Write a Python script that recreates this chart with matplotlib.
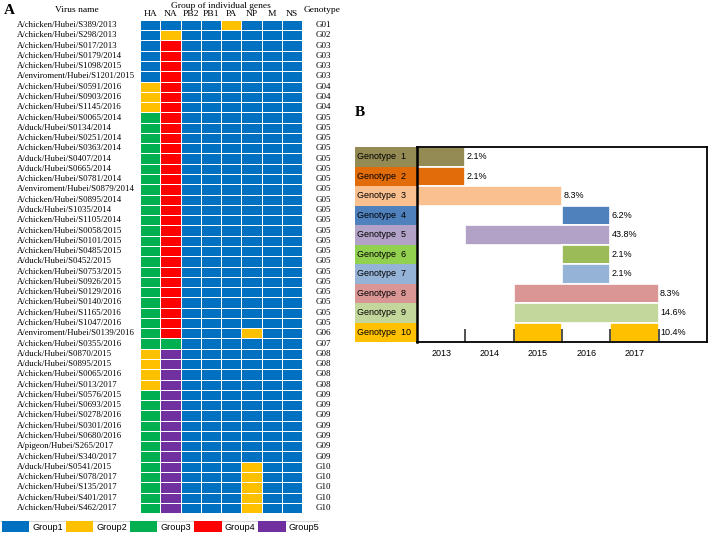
import numpy as np
import matplotlib.pyplot as plt
import matplotlib.transforms as mtransforms
from matplotlib.colors import ListedColormap
from matplotlib.patches import Patch
from matplotlib.lines import Line2D

# ---- panel A data ----
virus_names = [
    "A/chicken/Hubei/S389/2013", "A/chicken/Hubei/S298/2013", "A/chicken/Hubei/S017/2013",
    "A/chicken/Hubei/S0179/2014", "A/chicken/Hubei/S1098/2015", "A/enviroment/Hubei/S1201/2015",
    "A/chicken/Hubei/S0591/2016", "A/chicken/Hubei/S0903/2016", "A/chicken/Hubei/S1145/2016",
    "A/chicken/Hubei/S0065/2014", "A/duck/Hubei/S0134/2014", "A/chicken/Hubei/S0251/2014",
    "A/chicken/Hubei/S0363/2014", "A/duck/Hubei/S0407/2014", "A/duck/Hubei/S0665/2014",
    "A/chicken/Hubei/S0781/2014", "A/enviroment/Hubei/S0879/2014", "A/chicken/Hubei/S0895/2014",
    "A/duck/Hubei/S1035/2014", "A/chicken/Hubei/S1105/2014", "A/chicken/Hubei/S0058/2015",
    "A/chicken/Hubei/S0101/2015", "A/chicken/Hubei/S0485/2015", "A/duck/Hubei/S0452/2015",
    "A/chicken/Hubei/S0753/2015", "A/chicken/Hubei/S0926/2015", "A/chicken/Hubei/S0129/2016",
    "A/chicken/Hubei/S0140/2016", "A/chicken/Hubei/S1165/2016", "A/chicken/Hubei/S1047/2016",
    "A/enviroment/Hubei/S0139/2016", "A/chicken/Hubei/S0355/2016", "A/duck/Hubei/S0870/2015",
    "A/duck/Hubei/S0895/2015", "A/chicken/Hubei/S0065/2016", "A/chicken/Hubei/S013/2017",
    "A/chicken/Hubei/S0576/2015", "A/chicken/Hubei/S0693/2015", "A/chicken/Hubei/S0278/2016",
    "A/chicken/Hubei/S0301/2016", "A/chicken/Hubei/S0680/2016", "A/pigeon/Hubei/S265/2017",
    "A/chicken/Hubei/S340/2017", "A/duck/Hubei/S0541/2015", "A/chicken/Hubei/S078/2017",
    "A/chicken/Hubei/S135/2017", "A/chicken/Hubei/S401/2017", "A/chicken/Hubei/S462/2017",
]
genotypes = (["G01", "G02"] + ["G03"] * 4 + ["G04"] * 3 + ["G05"] * 21 + ["G06", "G07"]
             + ["G08"] * 4 + ["G09"] * 7 + ["G10"] * 5)
# group of each gene (HA NA PB2 PB1 PA NP M NS) per genotype
genotype_codes = {
    "G01": "11112111", "G02": "12111111", "G03": "14111111", "G04": "24111111",
    "G05": "34111111", "G06": "34111211", "G07": "33111111", "G08": "25111111",
    "G09": "35111111", "G10": "35111211",
}
genes = ["HA", "NA", "PB2", "PB1", "PA", "NP", "M", "NS"]
group_names = ["Group1", "Group2", "Group3", "Group4", "Group5"]
group_colors = ["#0070C0", "#FFC000", "#00B050", "#FF0000", "#7030A0"]

# ---- panel B data ----
genotype_labels = ["Genotype  %d" % i for i in range(1, 11)]
genotype_spans = [[(2013, 2013)], [(2013, 2013)], [(2013, 2015)], [(2016, 2016)],
                  [(2014, 2016)], [(2016, 2016)], [(2016, 2016)], [(2015, 2017)],
                  [(2015, 2017)], [(2015, 2015), (2017, 2017)]]
genotype_pct = ["2.1%", "2.1%", "8.3%", "6.2%", "43.8%", "2.1%", "2.1%", "8.3%", "14.6%", "10.4%"]
label_colors = ["#948A54", "#E36C0A", "#FAC090", "#4F81BD", "#B2A2C7",
                "#92D050", "#95B3D7", "#D99694", "#C3D69B", "#FFC000"]
bar_colors = ["#948A54", "#E36C0A", "#FAC090", "#4F81BD", "#B2A2C7",
              "#9BBB59", "#95B3D7", "#D99694", "#C3D69B", "#FFC000"]
years = [2013, 2014, 2015, 2016, 2017]

W, H = 708, 539
SERIF = "Liberation Serif"
SANS = "Liberation Sans"


def fbox(x0, y0, x1, y1):
    return [x0 / W, 1 - y1 / H, (x1 - x0) / W, (y1 - y0) / H]


fig = plt.figure(figsize=(W / 100, H / 100), dpi=100)

# ---- panel A ----
ax = fig.add_axes(fbox(140, 19.9, 302, 513.1))
matrix = np.array([[int(c) for c in genotype_codes[g]] for g in genotypes])
ax.pcolormesh(matrix, cmap=ListedColormap(group_colors), vmin=0.5, vmax=5.5,
              edgecolors="white", linewidth=0.7)
ax.set_xlim(0, len(genes))
ax.set_ylim(len(virus_names), 0)
ax.set_xticks(np.arange(len(genes)) + 0.5, genes)
ax.xaxis.tick_top()
ax.set_yticks([])
ax.tick_params(length=0, pad=1.5, labelsize=6.8)
for lab in ax.get_xticklabels():
    lab.set_family(SERIF)
for s in ax.spines.values():
    s.set_visible(False)

trans = mtransforms.blended_transform_factory(fig.transFigure, ax.transData)
for i, (name, g) in enumerate(zip(virus_names, genotypes)):
    ax.text(17 / W, i + 0.5, name, transform=trans, ha="left", va="center",
            fontsize=6.35, family=SERIF)
    ax.text(323 / W, i + 0.5, g, transform=trans, ha="center", va="center",
            fontsize=6.5, family=SERIF)

fig.text(4 / W, 1 - 11 / H, "A", fontsize=11, fontweight="bold", family=SERIF, va="center")
fig.text(77 / W, 1 - 9.5 / H, "Virus name", fontsize=6.8, family=SERIF, ha="center", va="center")
fig.text(221 / W, 1 - 5.5 / H, "Group of individual genes", fontsize=6.8, family=SERIF,
         ha="center", va="center")
fig.text(322 / W, 1 - 10 / H, "Genotype", fontsize=6.8, family=SERIF, ha="center", va="center")

fig.add_artist(Line2D([0, 318 / W], [1 - 521 / H] * 2, transform=fig.transFigure,
                      color="#d8d8d8", lw=0.8))
handles = [Patch(facecolor=c, edgecolor="none", label=n) for c, n in zip(group_colors, group_names)]
fig.legend(handles=handles, loc="lower left", bbox_to_anchor=(-3 / W, 2 / H), ncol=5,
           frameon=False, borderpad=0, handlelength=3.0, handleheight=1.6,
           handletextpad=0.35, columnspacing=0.3, prop={"family": SANS, "size": 6.6})

# ---- panel B ----
axl = fig.add_axes(fbox(355, 147, 417, 342))
axl.barh(range(len(genotype_labels)), 1, left=0, height=1, color=label_colors)
axl.set_xlim(0, 1)
axl.set_ylim(len(genotype_labels) - 0.5, -0.5)
axl.axis("off")
for i, lab in enumerate(genotype_labels):
    axl.text(0.04, i, lab, va="center", ha="left", fontsize=6.5, family=SANS)

axb = fig.add_axes(fbox(417, 147, 707, 342))
for i, spans in enumerate(genotype_spans):
    for s, e in spans:
        axb.barh(i, e - s + 1, left=s - 0.5, height=1, color=bar_colors[i],
                 edgecolor="white", linewidth=1.2)
    axb.text(spans[-1][1] + 0.53, i, genotype_pct[i], va="center", ha="left",
             fontsize=6.5, family=SANS)
axb.set_xlim(years[0] - 0.5, years[-1] + 1.5)
axb.set_ylim(len(genotype_labels) - 0.5, -0.5)
axb.set_xticks(years, [str(y) for y in years])
axb.set_xticks(np.array(years) + 0.5, minor=True)
axb.set_yticks([])
axb.tick_params(which="major", length=0, pad=5, labelsize=6.5)
axb.tick_params(which="minor", direction="in", length=9.5, width=1.2, color="#333333")
for lab in axb.get_xticklabels():
    lab.set_family(SANS)
for side, s in axb.spines.items():
    s.set_color("black")
    s.set_linewidth(1.8 if side == "left" else 1.3)

fig.text(355 / W, 1 - 113 / H, "B", fontsize=11, fontweight="bold", family=SERIF, va="center")

fig.savefig("out.png", dpi=100)
